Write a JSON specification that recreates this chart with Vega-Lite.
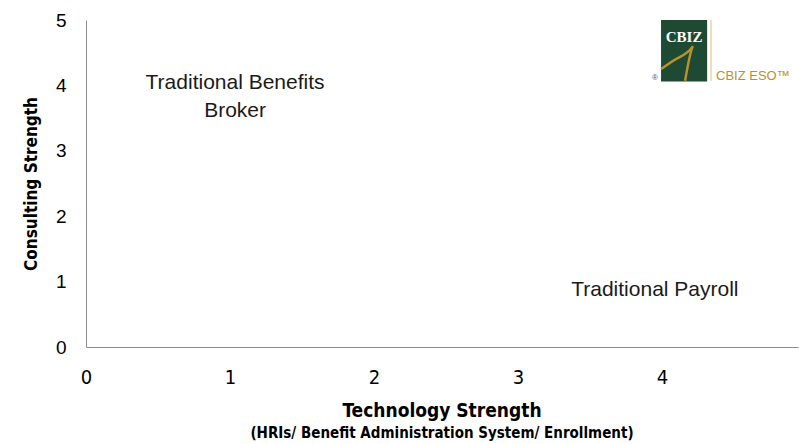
{
  "$schema": "https://vega.github.io/schema/vega-lite/v6.json",
  "width": 712,
  "height": 327,
  "autosize": {"type": "none"},
  "padding": {"left": 86, "top": 20, "right": 1, "bottom": 97},
  "background": "white",
  "title": {
    "text": "Technology Strength",
    "subtitle": "(HRIs/ Benefit Administration System/ Enrollment)",
    "orient": "bottom",
    "anchor": "middle",
    "font": "DejaVu Sans Condensed",
    "fontSize": 19,
    "fontWeight": "bold",
    "color": "black",
    "subtitleFont": "DejaVu Sans Condensed",
    "subtitleFontSize": 15,
    "subtitleFontWeight": "bold",
    "subtitleColor": "black",
    "subtitlePadding": 5,
    "offset": 15
  },
  "datasets": {
    "labels": [
      {"label": "Traditional Benefits\nBroker", "x": 1.035, "y": 4.04},
      {"label": "Traditional Payroll", "x": 3.95, "y": 0.87}
    ],
    "logobox": [{"x": 3.993, "x2": 4.313, "y": 5.0, "y2": 4.06}],
    "logoline": [{"x": 4.340, "y": 5.0, "y2": 4.07}],
    "swoosh": [
      {"x": 3.993, "y": 4.25, "o": 1},
      {"x": 4.08, "y": 4.38, "o": 2},
      {"x": 4.215, "y": 4.60, "o": 3},
      {"x": 4.160, "y": 4.07, "o": 4}
    ],
    "cbiz": [{"t": "CBIZ", "x": 4.153, "y": 4.66}],
    "eso": [{"t": "CBIZ ESO™", "x": 4.375, "y": 4.09}],
    "reg": [{"t": "®", "x": 3.95, "y": 4.09}]
  },
  "config": {
    "view": {"stroke": null},
    "axisX": {
      "domainColor": "#8c8c8c",
      "domainWidth": 1,
      "ticks": false,
      "grid": false,
      "labelFlush": false,
      "labelFont": "DejaVu Sans Condensed",
      "labelFontSize": 20,
      "labelColor": "black",
      "labelPadding": 20
    },
    "axisY": {
      "domainColor": "#8c8c8c",
      "domainWidth": 1,
      "ticks": false,
      "grid": false,
      "labelFlush": false,
      "labelFont": "Liberation Sans",
      "labelFontSize": 19,
      "labelColor": "black",
      "labelPadding": 20,
      "titleFont": "DejaVu Sans Condensed",
      "titleFontSize": 17,
      "titleFontWeight": "bold",
      "titleColor": "black",
      "titlePadding": 15
    }
  },
  "layer": [
    {
      "data": {"name": "labels"},
      "mark": {"type": "text", "font": "Liberation Sans", "fontSize": 21, "lineBreak": "\n", "lineHeight": 28, "align": "center", "baseline": "middle", "color": "#1a1a1a"},
      "encoding": {
        "x": {"field": "x", "type": "quantitative", "scale": {"domain": [0, 4.944], "nice": false, "zero": false}, "title": null, "axis": {"values": [0, 1, 2, 3, 4], "format": "d"}},
        "y": {"field": "y", "type": "quantitative", "scale": {"domain": [0, 5], "nice": false}, "title": "Consulting Strength", "axis": {"values": [0, 1, 2, 3, 4, 5], "format": "d"}},
        "text": {"field": "label"}
      }
    },
    {
      "data": {"name": "logobox"},
      "mark": {"type": "rect", "color": "#1e4a33"},
      "encoding": {
        "x": {"field": "x", "type": "quantitative", "title": null},
        "x2": {"field": "x2"},
        "y": {"field": "y", "type": "quantitative", "title": "Consulting Strength"},
        "y2": {"field": "y2"}
      }
    },
    {
      "data": {"name": "logoline"},
      "mark": {"type": "rule", "color": "#e6d6a8", "strokeWidth": 1.5},
      "encoding": {
        "x": {"field": "x", "type": "quantitative", "title": null},
        "y": {"field": "y", "type": "quantitative", "title": "Consulting Strength"},
        "y2": {"field": "y2"}
      }
    },
    {
      "data": {"name": "swoosh"},
      "mark": {"type": "line", "color": "#b8932c", "strokeWidth": 2.5, "interpolate": "monotone"},
      "encoding": {
        "x": {"field": "x", "type": "quantitative", "title": null},
        "y": {"field": "y", "type": "quantitative", "title": "Consulting Strength"},
        "order": {"field": "o"}
      }
    },
    {
      "data": {"name": "cbiz"},
      "mark": {"type": "text", "baseline": "alphabetic", "align": "center", "font": "Liberation Serif", "fontWeight": "bold", "fontSize": 15, "color": "white"},
      "encoding": {
        "x": {"field": "x", "type": "quantitative", "title": null},
        "y": {"field": "y", "type": "quantitative", "title": "Consulting Strength"},
        "text": {"field": "t"}
      }
    },
    {
      "data": {"name": "eso"},
      "mark": {"type": "text", "baseline": "alphabetic", "align": "left", "font": "Liberation Sans", "fontSize": 13, "color": "#b8932c"},
      "encoding": {
        "x": {"field": "x", "type": "quantitative", "title": null},
        "y": {"field": "y", "type": "quantitative", "title": "Consulting Strength"},
        "text": {"field": "t"}
      }
    },
    {
      "data": {"name": "reg"},
      "mark": {"type": "text", "baseline": "alphabetic", "align": "center", "font": "Liberation Sans", "fontSize": 8, "color": "#555555"},
      "encoding": {
        "x": {"field": "x", "type": "quantitative", "title": null},
        "y": {"field": "y", "type": "quantitative", "title": "Consulting Strength"},
        "text": {"field": "t"}
      }
    }
  ]
}
